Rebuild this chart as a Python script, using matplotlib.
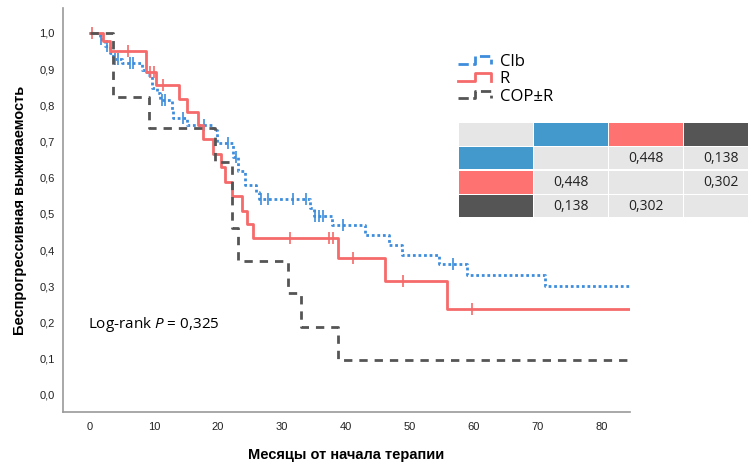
import matplotlib
matplotlib.use('Agg')
import matplotlib.pyplot as plt
from matplotlib.ticker import FuncFormatter, MultipleLocator
from matplotlib.legend_handler import HandlerBase
from matplotlib.lines import Line2D
from matplotlib.patches import Rectangle

# Kaplan-Meier steps (months, survival)
clb_t = [0, 1.6, 2.3, 3.1, 3.6, 5.0, 8.1, 9.0, 9.7, 10.5, 11.0, 12.8, 13.0, 15.1, 19.2, 19.8,
         22.3, 23.2, 24.2, 26.0, 26.5, 34.4, 35.0, 37.9, 43.0, 46.7, 48.7, 54.5, 58.9, 71.1, 84.4]
clb_s = [1.0, 0.982, 0.964, 0.946, 0.929, 0.917, 0.898, 0.885, 0.848, 0.834, 0.815, 0.787, 0.765,
         0.746, 0.732, 0.696, 0.657, 0.62, 0.58, 0.56, 0.541, 0.516, 0.494, 0.47, 0.442, 0.414,
         0.387, 0.362, 0.331, 0.301, 0.301]
clb_cens_t = [1.7, 2.6, 3.9, 4.4, 6.3, 6.8, 11.3, 11.8, 14.5, 17.8, 21.6, 22.9, 26.8, 27.8, 31.7,
              33.8, 35.2, 35.8, 36.4, 39.5, 56.7]
clb_cens_s = [0.982, 0.964, 0.929, 0.929, 0.917, 0.917, 0.815, 0.815, 0.765, 0.746, 0.696, 0.657,
              0.541, 0.541, 0.541, 0.541, 0.494, 0.494, 0.494, 0.47, 0.362]

r_t = [0, 2.0, 3.1, 8.8, 10.3, 13.9, 15.2, 16.9, 17.6, 19.3, 20.5, 21.1, 22.2, 23.7, 24.5, 25.5,
       38.8, 46.1, 55.8, 84.4]
r_s = [1.0, 0.978, 0.951, 0.892, 0.855, 0.818, 0.783, 0.745, 0.706, 0.667, 0.630, 0.588, 0.55,
       0.508, 0.472, 0.434, 0.378, 0.316, 0.238, 0.238]
r_cens_t = [0.3, 5.9, 9.4, 10.0, 11.5, 31.3, 37.3, 38.0, 41.1, 48.9, 59.7]
r_cens_s = [1.0, 0.951, 0.892, 0.892, 0.855, 0.434, 0.434, 0.434, 0.378, 0.316, 0.238]

cop_t = [0, 3.6, 9.2, 19.5, 22.2, 23.1, 30.9, 33.0, 38.7, 84.4]
cop_s = [1.0, 0.823, 0.738, 0.644, 0.461, 0.37, 0.282, 0.188, 0.097, 0.097]

labels = ['Clb', 'R', 'COP±R']
colors = ['#3d8ddc', '#f56a6a', '#555555']
table_colors = ['#4499cc', '#fe7272', '#555555']
pvals = [['', '0,448', '0,138'],
         ['0,448', '', '0,302'],
         ['0,138', '0,302', '']]
logrank_p = '0,325'


class StepHandler(HandlerBase):
    # legend handle drawn as a small step, like in SPSS output
    def create_artists(self, legend, orig_handle, xdescent, ydescent, width, height, fontsize, trans):
        x = [0, 0.5 * width, 0.5 * width, width, width]
        y = [0.2 * height, 0.2 * height, 0.85 * height, 0.85 * height, 0.2 * height]
        ln = Line2D(x, y, color=orig_handle.get_color(), linestyle=orig_handle.get_linestyle(),
                    linewidth=orig_handle.get_linewidth())
        ln.set_transform(trans)
        return [ln]


plt.rcParams['font.family'] = ['Liberation Sans', 'DejaVu Sans']
plt.rcParams['mathtext.fontset'] = 'custom'
plt.rcParams['mathtext.it'] = 'Open Sans:italic'
plt.rcParams['mathtext.rm'] = 'Open Sans'

fig = plt.figure(figsize=(7.48, 4.62), dpi=100)
ax = fig.add_axes([63 / 748, 1 - 412 / 462, (630 - 63) / 748, (412 - 8) / 462])

styles = [(0, (1, 1)), '-', (0, (3, 2.5))]
handles = []
for t, s, ct, cs, c, ls, lab in zip([clb_t, r_t, cop_t], [clb_s, r_s, cop_s],
                                     [clb_cens_t, r_cens_t, []], [clb_cens_s, r_cens_s, []],
                                     colors, styles, labels):
    h, = ax.step(t, s, where='post', color=c, linestyle=ls, linewidth=2, label=lab)
    handles.append(h)
    if ct:
        ax.plot(ct, cs, linestyle='none', marker='|', markersize=9, markeredgewidth=1.2, color=c)

ax.set_xlim(-4.2, 84.4)
ax.set_ylim(-0.047, 1.069)
ax.xaxis.set_major_locator(MultipleLocator(10))
ax.yaxis.set_major_locator(MultipleLocator(0.1))
ax.yaxis.set_major_formatter(FuncFormatter(lambda v, p: ('%.1f' % v).replace('.', ',')))
ax.tick_params(length=0, labelsize=8, colors='#222222')
ax.tick_params(axis='y', pad=6)
ax.tick_params(axis='x', pad=7)
for sp in ['top', 'right']:
    ax.spines[sp].set_visible(False)
for sp in ['left', 'bottom']:
    ax.spines[sp].set_color('#999999')
    ax.spines[sp].set_linewidth(1.2)

ax.set_xlabel('Месяцы от начала терапии', fontsize=10.5, fontweight='bold', labelpad=12)
ax.set_ylabel('Беспрогрессивная выживаемость', fontsize=10.5, fontweight='bold', labelpad=9)

ax.text(88 / 748, 1 - 325 / 462, r'Log-rank $P$ = ' + logrank_p, transform=fig.transFigure,
        family='Open Sans', fontsize=11, va='center', ha='left')

fig.legend(handles=handles, labels=labels, handler_map={Line2D: StepHandler()},
           loc='upper left', bbox_to_anchor=(458 / 748, 1 - 54 / 462), frameon=False,
           prop={'family': 'Open Sans', 'size': 12}, handlelength=2.0, handletextpad=0.5,
           labelspacing=0.08, borderpad=0, borderaxespad=0)

# pairwise p-value table
col_x = [459, 534, 609, 684, 760]
row_y = [123, 147, 171, 195, 219]
cell_bg = '#e6e6e6'
W, H = 748.0, 462.0


def cell(ci, ri, color, txt=''):
    x0, x1 = col_x[ci], col_x[ci + 1] - 1.5
    y0, y1 = row_y[ri], row_y[ri + 1] - 1.5
    fig.patches.append(Rectangle((x0 / W, 1 - y1 / H), (x1 - x0) / W, (y1 - y0) / H,
                                 transform=fig.transFigure, facecolor=color, edgecolor='none'))
    if txt:
        fig.text((x0 + x1) / 2 / W, 1 - (y0 + y1) / 2 / H, txt, ha='center', va='center',
                 family='Open Sans', fontsize=10, color='#222222')


cell(0, 0, cell_bg)
for i, c in enumerate(table_colors):
    cell(i + 1, 0, c)
    cell(0, i + 1, c)
    for j in range(3):
        cell(j + 1, i + 1, cell_bg, pvals[i][j])

fig.savefig('out.png', dpi=100)
